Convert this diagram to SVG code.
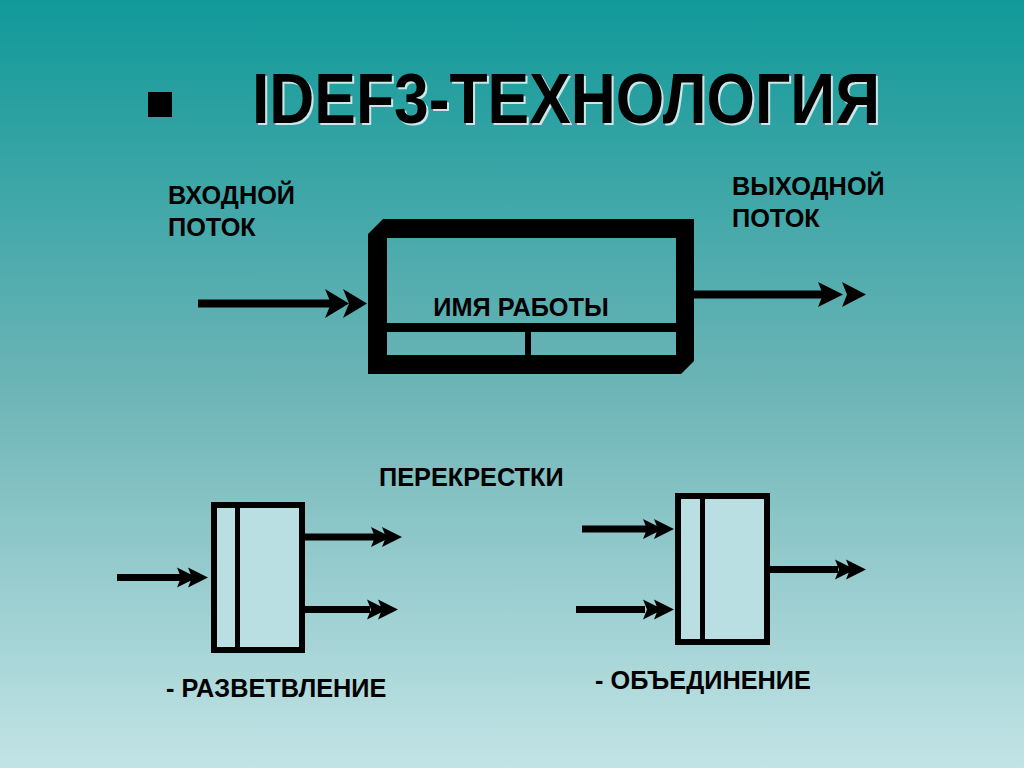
<svg xmlns="http://www.w3.org/2000/svg" width="1024" height="768" viewBox="0 0 1024 768">
<defs>
<linearGradient id="bg" x1="0" y1="0" x2="0" y2="1">
<stop offset="0" stop-color="#119999"/>
<stop offset="0.5" stop-color="#6cb4b6"/>
<stop offset="1" stop-color="#c2e4e6"/>
</linearGradient>
<style>
.lbl{font-family:"Liberation Sans",Arial,sans-serif;font-weight:bold;font-size:25.3px;fill:#000}
.title{font-family:"Liberation Sans",Arial,sans-serif;font-weight:bold;font-size:70px}
.ln{stroke:#000;fill:none}
.hd{fill:#000}
.jbox{fill:#b9dfe2;stroke:#000;stroke-width:6}
</style>
<path id="sh" d="M0,0 L-20,-10 L-16,0 L-20,10 Z M-11,0 L-31,-10 L-27,0 L-31,10 Z"/>
</defs>
<rect width="1024" height="768" fill="url(#bg)"/>

<g id="title">
<rect x="148" y="92" width="24" height="25" fill="#000"/>
<text class="title" x="254" y="125" fill="#e8f4f4" fill-opacity="0.85" textLength="628" lengthAdjust="spacingAndGlyphs">IDEF3-ТЕХНОЛОГИЯ</text>
<text class="title" x="252" y="123" fill="#000" textLength="628" lengthAdjust="spacingAndGlyphs">IDEF3-ТЕХНОЛОГИЯ</text>
</g>

<g id="input-label">
<text class="lbl" x="168" y="204">ВХОДНОЙ</text>
<text class="lbl" x="168" y="236">ПОТОК</text>
</g>
<g id="output-label">
<text class="lbl" x="732" y="195">ВЫХОДНОЙ</text>
<text class="lbl" x="732" y="227">ПОТОК</text>
</g>

<g id="work-box">
<path fill="#000" fill-rule="evenodd" d="M383,219 L694,219 L694,361 L681,374 L368,374 L368,234 Z M387,238 L676,238 L676,323 L387,323 Z M387,332 L525,332 L525,355 L387,355 Z M531,332 L676,332 L676,355 L531,355 Z"/>
<text class="lbl" x="521" y="316" text-anchor="middle">ИМЯ РАБОТЫ</text>
</g>

<g id="crossroads-label">
<text class="lbl" x="379" y="486">ПЕРЕКРЕСТКИ</text>
</g>

<g id="fan-out">
<rect class="jbox" x="214" y="505" width="88" height="145"/>
<line x1="237.5" y1="505" x2="237.5" y2="650" stroke="#000" stroke-width="5"/>
<text class="lbl" x="166" y="697">- РАЗВЕТВЛЕНИЕ</text>
</g>

<g id="fan-in">
<rect class="jbox" x="678" y="496" width="89" height="146"/>
<line x1="702.5" y1="496" x2="702.5" y2="642" stroke="#000" stroke-width="5"/>
<text class="lbl" x="595" y="689">- ОБЪЕДИНЕНИЕ</text>
</g>

<g id="connectors">
<line class="ln" x1="198" y1="303.5" x2="340" y2="303.5" stroke-width="8"/>
<path class="hd" d="M367,303.5 L343,289 L349,303.5 L343,318 Z M349,303.5 L325,289 L331,303.5 L325,318 Z"/>

<line class="ln" x1="694" y1="294.5" x2="835" y2="294.5" stroke-width="8"/>
<path class="hd" d="M866,294.5 L842,282 L847,294.5 L842,307 Z M843,294.5 L818,282 L823,294.5 L818,307 Z"/>

<line class="ln" x1="117" y1="577.5" x2="185" y2="577.5" stroke-width="7"/>
<use href="#sh" x="208" y="577.5" class="hd"/>

<line class="ln" x1="305" y1="537" x2="375" y2="537" stroke-width="7"/>
<use href="#sh" x="402" y="537" class="hd"/>
<line class="ln" x1="305" y1="609.5" x2="370" y2="609.5" stroke-width="7"/>
<use href="#sh" x="398" y="609.5" class="hd"/>

<line class="ln" x1="582" y1="529" x2="650" y2="529" stroke-width="7"/>
<use href="#sh" x="674" y="529" class="hd"/>
<line class="ln" x1="576" y1="609.5" x2="645" y2="609.5" stroke-width="7"/>
<use href="#sh" x="674" y="609.5" class="hd"/>

<line class="ln" x1="770" y1="569.5" x2="838" y2="569.5" stroke-width="7"/>
<use href="#sh" x="866" y="569.5" class="hd"/>
</g>
</svg>
